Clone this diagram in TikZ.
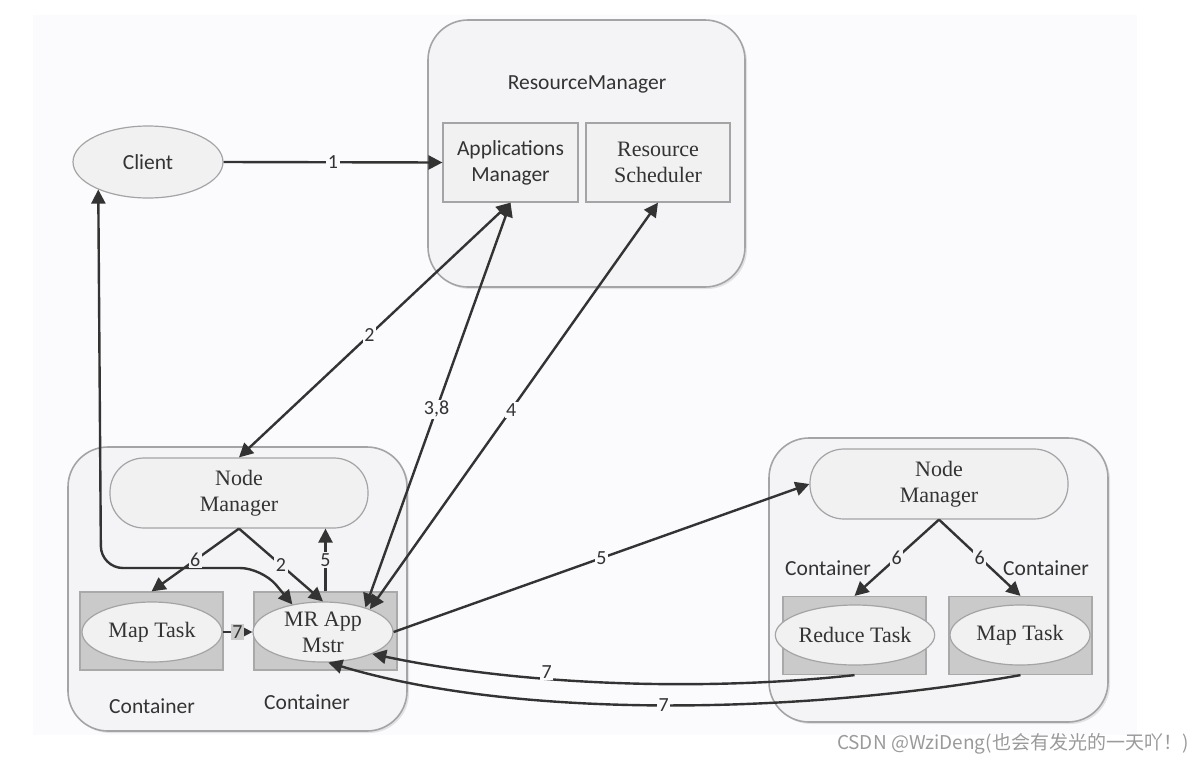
\documentclass[tikz,border=0pt]{standalone}
\usepackage{fontspec}
\setmainfont{Carlito}
\newfontfamily\tnr{Liberation Serif}
\newfontfamily\cjk{Noto Sans CJK SC}
\usepackage{tikz}
\usetikzlibrary{arrows.meta,shapes.geometric,shadows}
\definecolor{panel}{HTML}{FBFAFD}
\definecolor{boxfill}{HTML}{F4F4F6}
\definecolor{innerfill}{HTML}{F1F1F2}
\definecolor{boxline}{HTML}{A4A4A6}
\definecolor{contfill}{HTML}{CACACA}
\definecolor{contline}{HTML}{A9A9A9}
\definecolor{ink}{HTML}{333333}
\definecolor{mark}{HTML}{9A9A9A}
\def\sansfont{\fontsize{21.5}{26}\selectfont}
\def\seriffont{\tnr\fontsize{22}{26}\selectfont}
\def\numfont{\fontsize{20}{20}\selectfont}

\begin{document}
\begin{tikzpicture}[x=1pt,y=-1pt,
    bigbox/.style={draw=boxline,fill=boxfill,line width=1.6pt,rounded corners=40pt,
      drop shadow={shadow xshift=2pt,shadow yshift=-2pt,opacity=.2}},
    inbox/.style={draw=boxline,fill=innerfill,line width=1.2pt,align=center,
      minimum height=79pt,inner sep=0pt},
    pill/.style={draw=boxline,fill=innerfill,line width=1.2pt,rounded corners=34pt,
      minimum width=258pt,minimum height=70pt,align=center,font=\seriffont,text=ink},
    cont/.style={draw=contline,fill=contfill,line width=1.2pt,
      minimum width=143pt,minimum height=78pt},
    task/.style={ellipse,draw=boxline,fill=innerfill,line width=1.2pt,inner sep=0pt,
      minimum width=140pt,minimum height=60pt,align=center,font=\seriffont,text=ink},
    tag/.style={font=\sansfont,text=ink},
    link/.style={draw=ink,line width=2.4pt,-{Triangle[length=14pt,width=14pt]}},
    both/.style={link,{Triangle[length=14pt,width=14pt]}-{Triangle[length=14pt,width=14pt]}},
    num/.style={fill=panel,inner sep=1.5pt,font=\numfont,text=ink},
    numin/.style={num,fill=boxfill}]

  %%%%% START %%%%%
  \useasboundingbox (0,0) rectangle (1204,764);
  \fill[panel] (33,15) rectangle (1137,735);

  % resource manager
  \node[bigbox,minimum width=317pt,minimum height=267pt] (rm) at (586.5,153.5) {};
  \node[tag] (rmtitle) at (587,84) {ResourceManager};
  \node[inbox,minimum width=135pt,font=\sansfont,text=ink] (am) at (510.5,162.5) {Applications\\Manager};
  \node[inbox,minimum width=144pt,font=\seriffont,text=ink] (rs) at (658,162.5) {Resource\\Scheduler};

  % client
  \node[ellipse,draw=boxline,fill=innerfill,line width=1.2pt,minimum width=150pt,
    minimum height=72pt,inner sep=0pt,tag] (client) at (148,162) {Client};

  % left node
  \node[bigbox,minimum width=339pt,minimum height=284pt] (left) at (237.5,589) {};
  \node[pill] (nml) at (239,493) {Node\\Manager};
  \node[cont] (mtlbox) at (151.5,631) {};
  \node[task] (mtl) at (152,632) {Map Task};
  \node[cont] (mrbox) at (325.5,631) {};
  \node[task] (mr) at (323,632) {MR App\\Mstr};
  \node[tag] (contl) at (152,706) {Container};
  \node[tag] (contm) at (307,702) {Container};

  % right node
  \node[bigbox,minimum width=339pt,minimum height=284pt] (right) at (938.5,580) {};
  \node[pill] (nmr) at (939,484) {Node\\Manager};
  \node[cont] (rdbox) at (854.5,635.5) {};
  \node[task] (rd) at (855,635) {Reduce Task};
  \node[cont] (mtrbox) at (1020.5,635.5) {};
  \node[task] (mtr) at (1020,635) {Map Task};
  \node[tag] (contr1) at (828,568) {Container};
  \node[tag] (contr2) at (1046,568) {Container};

  % connectors
  \draw[link] (client.east) -- node[num] {1} (am.west);
  \draw[both] (am.south) -- node[num,pos=.52] {2} (nml.north);
  \draw[both] (am.south) -- node[num,pos=.51] {3,8} (mr.30);
  \draw[both] (rs.south) -- node[num,pos=.51] {4} (mr.26);
  \draw[both,rounded corners=22pt] (client.209) -- (101,568) -- (262,568) -- (mr.138);
  \draw[link] (nml.south) -- node[numin] {6} (mtlbox.north);
  \draw[link] (nml.south) -- node[numin] {2} (mr.north);
  \draw[link] (mrbox.north) -- node[numin] {5} (mrbox.north |- nml.south);
  \draw[link] (mtl.east) -- node[numin,fill=contfill] {7} (mr.west);
  \draw[link] (mr.east) -- node[num] {5} (nmr.west);
  \draw[link] (nmr.south) -- node[numin] {6} (rdbox.north);
  \draw[link] (nmr.south) -- node[numin] {6} (mtrbox.north);
  \draw[link] (rdbox.south) .. controls (700,692) and (520,685) ..
    node[num,pos=.63,yshift=6pt] {7} (mr.-24);
  \draw[link] (mtrbox.south) .. controls (800,714) and (520,720) ..
    node[num,pos=.5] {7} (mr.-80);

  % watermark
  \node[anchor=east,text=mark,font=\cjk\fontsize{19}{19}\selectfont] (wm) at (1192,744)
    {CSDN @WziDeng(也会有发光的一天吖！)};
  %%%%% END %%%%%
\end{tikzpicture}
\end{document}
